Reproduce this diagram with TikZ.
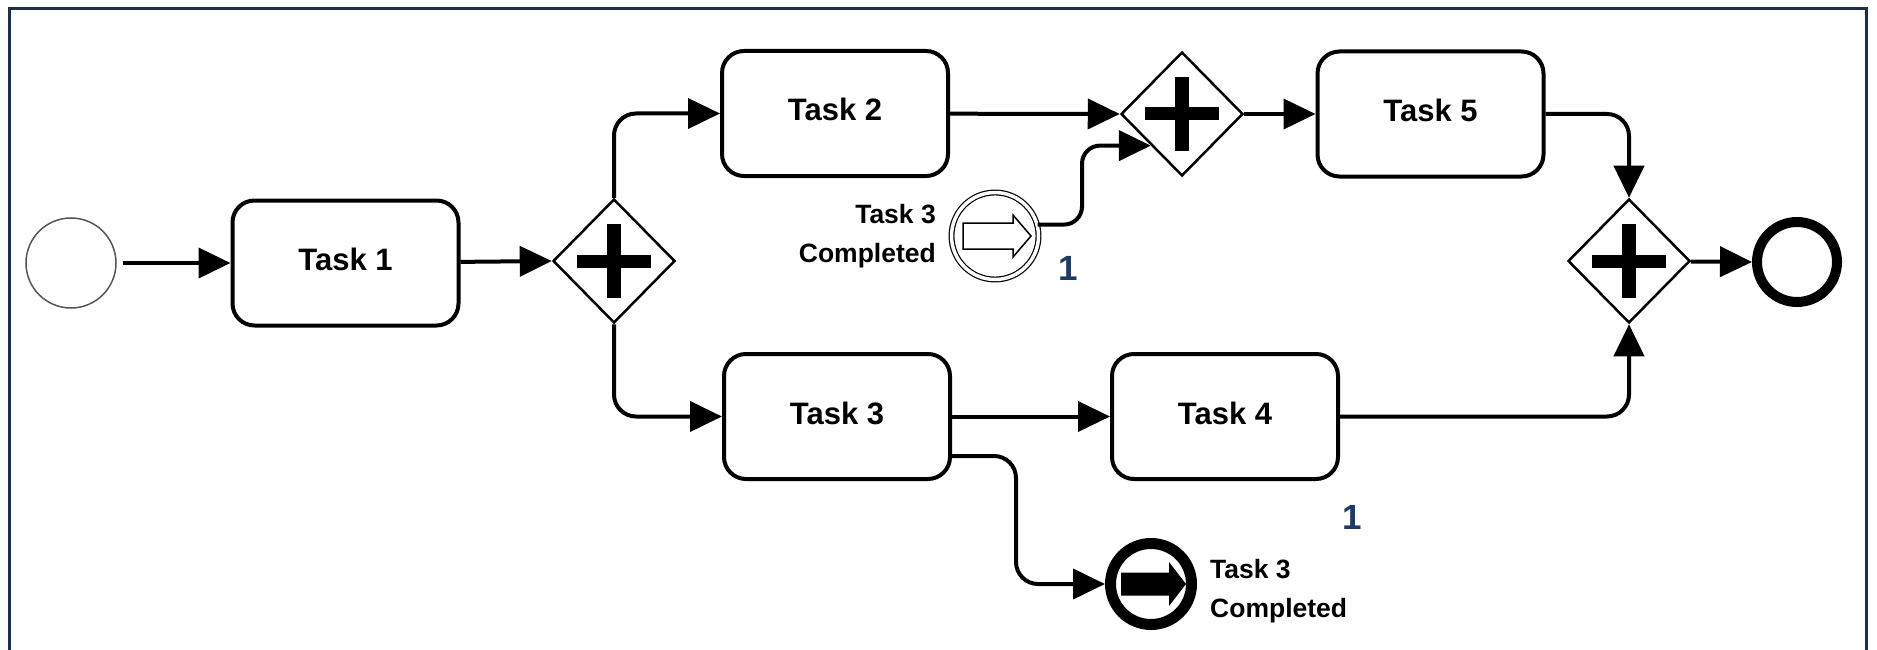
\documentclass[tikz,border=0pt]{standalone}
\usepackage{fontspec}
\setmainfont{Liberation Sans}
\usetikzlibrary{shapes.geometric,arrows.meta,calc}
\definecolor{framenavy}{HTML}{1B2F4B}
\definecolor{countblue}{HTML}{1F3A64}
\definecolor{startgray}{HTML}{555555}
\tikzset{
  task/.style={draw, line width=4pt, rounded corners=22pt, minimum width=226pt,
    minimum height=125pt, inner sep=0pt, text height=22pt, text depth=7pt,
    font=\fontsize{31}{36}\selectfont\bfseries},
  andgate/.style={draw, diamond, line width=2.5pt, inner sep=0pt,
    minimum width=122pt, minimum height=124pt,
    path picture={
      \fill ([shift={(-37pt,-6.5pt)}]path picture bounding box.center)
        rectangle ([shift={(37pt,6.5pt)}]path picture bounding box.center);
      \fill ([shift={(-7pt,-37pt)}]path picture bounding box.center)
        rectangle ([shift={(7pt,37pt)}]path picture bounding box.center);}},
  startev/.style={draw=startgray, circle, line width=1.5pt, minimum size=90pt, inner sep=0pt},
  endev/.style={draw, circle, line width=10pt, minimum size=80pt, inner sep=0pt},
  catchev/.style={draw, circle, double, double distance=3.5pt, line width=1.2pt,
    minimum size=87pt, inner sep=0pt},
  throwev/.style={draw, circle, line width=11pt, minimum size=81pt, inner sep=0pt},
  flow/.style={line width=4pt, -{Triangle[length=32pt,width=30pt]}},
  evlabel/.style={font=\fontsize{26.5}{39}\selectfont\bfseries, inner sep=0pt},
  count/.style={font=\fontsize{35}{40}\selectfont\bfseries, text=countblue, inner sep=0pt},
}
\begin{document}
\begin{tikzpicture}[x=1pt,y=-1pt]
  \useasboundingbox (0,0) rectangle (1877,650);
  \fill[white] (0,0) rectangle (1877,650);
  % outer frame, open at the bottom edge of the page
  \draw[framenavy, line width=3pt] (9.5,670) -- (9.5,8.5) -- (1866.5,8.5) -- (1866.5,670);

  % events, tasks and gateways
  \node[startev] (start) at (71,263) {};
  \node[task] (t1) at (345.5,263) {Task 1};
  \node[andgate] (g1) at (614,261) {};
  \node[task] (t2) at (835,113.5) {Task 2};
  \node[andgate] (g2) at (1182,114) {};
  \node[task] (t5) at (1430.5,114) {Task 5};
  \node[andgate] (g3) at (1629,261) {};
  \node[endev] (end) at (1797,262) {};
  \node[task] (t3) at (837,416.5) {Task 3};
  \node[task] (t4) at (1225,416.5) {Task 4};
  \node[catchev] (ev1) at (995,236) {};
  \node[throwev] (ev2) at (1151,584) {};

  % link markers inside the intermediate events
  \draw[line width=1.5pt, line join=miter] ($(ev1)+(-32,-13)$) -- ++(50,0) -- ++(0,-8)
    -- ++(18,21) -- ++(-18,21) -- ++(0,-8) -- ++(-50,0) -- cycle;
  \fill ($(ev2)+(-30,-11.5)$) -- ++(48,0) -- ++(0,-10.5) -- ++(17,22) -- ++(-17,22)
    -- ++(0,-10.5) -- ++(-48,0) -- cycle;

  % labels
  \node[evlabel, anchor=east, align=right] (lab1) at (936,236) {Task 3\\Completed};
  \node[evlabel, anchor=west, align=left] (lab2) at (1210,591) {Task 3\\Completed};
  \node[count] (n1) at (1068,268) {1};
  \node[count] (n2) at (1352,517) {1};

  % helper points for the bent connectors
  \coordinate (bend1) at (1082,190);
  \coordinate (bend2) at (1016,520);

  % sequence flows
  \draw[flow, shorten <=6pt] (start) -- (t1);
  \draw[flow] (t1) -- (g1.west);
  \draw[flow, rounded corners=22pt] (g1.north) |- (t2.west);
  \draw[flow, rounded corners=22pt] (g1.south) |- (t3.west);
  \draw[flow] (t2) -- (g2.west);
  \draw[flow, rounded corners=18pt] (ev1.15) -| (bend1) |- (g2.south west);
  \draw[flow] (g2) -- (t5.west);
  \draw[flow, rounded corners=22pt] (t5.east) -| (g3.north);
  \draw[flow] (t3) -- (t4.west);
  \draw[flow, rounded corners=22pt] (t4.east) -| (g3.south);
  \draw[flow, rounded corners=22pt] ([yshift=-39.5pt]t3.east) -| (bend2) |- (ev2.west);
  \draw[flow] (g3) -- (end.west);
\end{tikzpicture}
\end{document}
